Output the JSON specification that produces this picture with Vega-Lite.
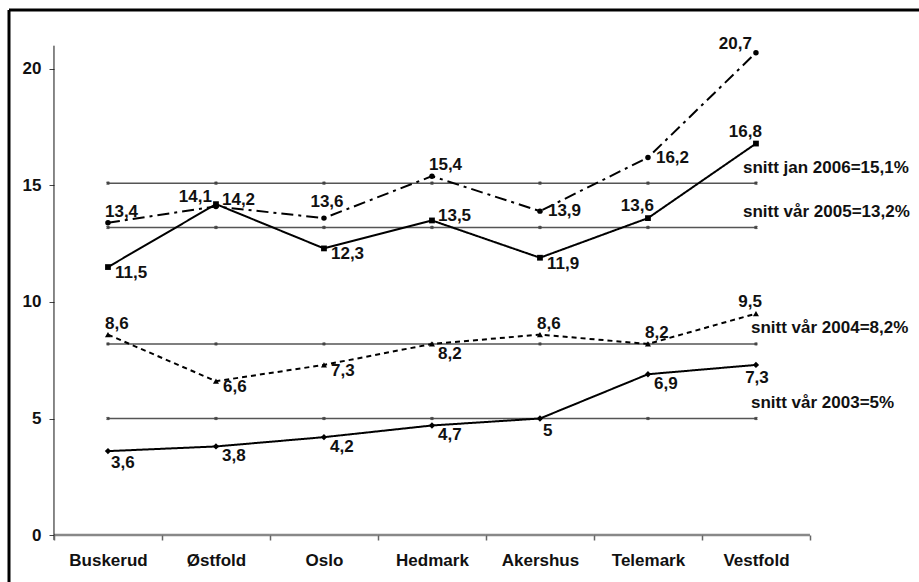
{
  "$schema": "https://vega.github.io/schema/vega-lite/v6.json",
  "autosize": {"type": "none"},
  "padding": {"left": 9, "top": 10, "right": 0, "bottom": 0},
  "width": 910,
  "height": 572,
  "background": "white",
  "config": {
    "view": {"stroke": null},
    "font": "Liberation Sans"
  },
  "datasets": {
    "series": [
      {"region": "Buskerud", "serie": "jan 2006", "value": 13.4},
      {"region": "Østfold", "serie": "jan 2006", "value": 14.1},
      {"region": "Oslo", "serie": "jan 2006", "value": 13.6},
      {"region": "Hedmark", "serie": "jan 2006", "value": 15.4},
      {"region": "Akershus", "serie": "jan 2006", "value": 13.9},
      {"region": "Telemark", "serie": "jan 2006", "value": 16.2},
      {"region": "Vestfold", "serie": "jan 2006", "value": 20.7},
      {"region": "Buskerud", "serie": "vår 2005", "value": 11.5},
      {"region": "Østfold", "serie": "vår 2005", "value": 14.2},
      {"region": "Oslo", "serie": "vår 2005", "value": 12.3},
      {"region": "Hedmark", "serie": "vår 2005", "value": 13.5},
      {"region": "Akershus", "serie": "vår 2005", "value": 11.9},
      {"region": "Telemark", "serie": "vår 2005", "value": 13.6},
      {"region": "Vestfold", "serie": "vår 2005", "value": 16.8},
      {"region": "Buskerud", "serie": "vår 2004", "value": 8.6},
      {"region": "Østfold", "serie": "vår 2004", "value": 6.6},
      {"region": "Oslo", "serie": "vår 2004", "value": 7.3},
      {"region": "Hedmark", "serie": "vår 2004", "value": 8.2},
      {"region": "Akershus", "serie": "vår 2004", "value": 8.6},
      {"region": "Telemark", "serie": "vår 2004", "value": 8.2},
      {"region": "Vestfold", "serie": "vår 2004", "value": 9.5},
      {"region": "Buskerud", "serie": "vår 2003", "value": 3.6},
      {"region": "Østfold", "serie": "vår 2003", "value": 3.8},
      {"region": "Oslo", "serie": "vår 2003", "value": 4.2},
      {"region": "Hedmark", "serie": "vår 2003", "value": 4.7},
      {"region": "Akershus", "serie": "vår 2003", "value": 5},
      {"region": "Telemark", "serie": "vår 2003", "value": 6.9},
      {"region": "Vestfold", "serie": "vår 2003", "value": 7.3}
    ],
    "snitt": [
      {"region": "Buskerud", "snitt": "jan 2006", "value": 15.1},
      {"region": "Østfold", "snitt": "jan 2006", "value": 15.1},
      {"region": "Oslo", "snitt": "jan 2006", "value": 15.1},
      {"region": "Hedmark", "snitt": "jan 2006", "value": 15.1},
      {"region": "Akershus", "snitt": "jan 2006", "value": 15.1},
      {"region": "Telemark", "snitt": "jan 2006", "value": 15.1},
      {"region": "Vestfold", "snitt": "jan 2006", "value": 15.1},
      {"region": "Buskerud", "snitt": "vår 2005", "value": 13.2},
      {"region": "Østfold", "snitt": "vår 2005", "value": 13.2},
      {"region": "Oslo", "snitt": "vår 2005", "value": 13.2},
      {"region": "Hedmark", "snitt": "vår 2005", "value": 13.2},
      {"region": "Akershus", "snitt": "vår 2005", "value": 13.2},
      {"region": "Telemark", "snitt": "vår 2005", "value": 13.2},
      {"region": "Vestfold", "snitt": "vår 2005", "value": 13.2},
      {"region": "Buskerud", "snitt": "vår 2004", "value": 8.2},
      {"region": "Østfold", "snitt": "vår 2004", "value": 8.2},
      {"region": "Oslo", "snitt": "vår 2004", "value": 8.2},
      {"region": "Hedmark", "snitt": "vår 2004", "value": 8.2},
      {"region": "Akershus", "snitt": "vår 2004", "value": 8.2},
      {"region": "Telemark", "snitt": "vår 2004", "value": 8.2},
      {"region": "Vestfold", "snitt": "vår 2004", "value": 8.2},
      {"region": "Buskerud", "snitt": "vår 2003", "value": 5},
      {"region": "Østfold", "snitt": "vår 2003", "value": 5},
      {"region": "Oslo", "snitt": "vår 2003", "value": 5},
      {"region": "Hedmark", "snitt": "vår 2003", "value": 5},
      {"region": "Akershus", "snitt": "vår 2003", "value": 5},
      {"region": "Telemark", "snitt": "vår 2003", "value": 5},
      {"region": "Vestfold", "snitt": "vår 2003", "value": 5}
    ],
    "snittlabels": [
      {"region": "Vestfold", "snitt": "jan 2006", "value": 15.1, "label": "snitt jan 2006=15,1%"},
      {"region": "Vestfold", "snitt": "vår 2005", "value": 13.2, "label": "snitt vår 2005=13,2%"},
      {"region": "Vestfold", "snitt": "vår 2004", "value": 8.2, "label": "snitt vår 2004=8,2%"},
      {"region": "Vestfold", "snitt": "vår 2003", "value": 5, "label": "snitt vår 2003=5%"}
    ]
  },
  "resolve": {"scale": {"x": "independent"}, "axis": {"x": "independent"}},
  "layer": [
    {
      "encoding": {
        "x": {
          "field": "region", "type": "nominal",
          "scale": {"type": "band", "domain": ["Buskerud", "Østfold", "Oslo", "Hedmark", "Akershus", "Telemark", "Vestfold"], "paddingInner": 0, "paddingOuter": 0.713, "align": 0.292},
          "axis": {"orient": "bottom", "offset": -47, "tickBand": "extent", "domain": false, "grid": false, "tickSize": 5, "tickColor": "#666", "tickWidth": 1.5, "labelFont": "Liberation Sans", "labelFontWeight": "bold", "labelFontSize": 17, "labelColor": "#111", "labelPadding": 12, "labelAngle": 0, "title": null}
        },
        "y": {
          "field": "value", "type": "quantitative",
          "scale": {"domain": [-2.017, 22.532], "nice": false, "zero": false},
          "axis": {"orient": "left", "offset": -45, "values": [0, 5, 10, 15, 20], "domain": false, "grid": false, "tickSize": 5, "tickColor": "#444", "tickWidth": 1, "labelFont": "Liberation Sans", "labelFontWeight": "bold", "labelFontSize": 17, "labelColor": "#111", "labelPadding": 8, "title": null}
        }
      },
      "layer": [
        {
          "data": {"name": "snitt"},
          "transform": [{"filter": "datum.snitt == 'jan 2006'"}],
          "mark": {"type": "rect", "color": "#888"},
          "encoding": {
            "y": {"datum": 0.055, "type": "quantitative", "scale": {"domain": [-2.017, 22.532], "nice": false, "zero": false}},
            "y2": {"datum": -0.055}
          }
        },
        {
          "data": {"name": "series"},
          "transform": [{"filter": "datum.region == 'Buskerud' && datum.serie == 'jan 2006'"}],
          "mark": {"type": "rule", "color": "#111", "strokeWidth": 1},
          "encoding": {
            "x": {"field": "region", "type": "nominal", "bandPosition": 0, "scale": {"type": "band", "domain": ["Buskerud", "Østfold", "Oslo", "Hedmark", "Akershus", "Telemark", "Vestfold"], "paddingInner": 0, "paddingOuter": 0.713, "align": 0.292}},
            "y": {"datum": -0.21, "type": "quantitative", "scale": {"domain": [-2.017, 22.532], "nice": false, "zero": false}},
            "y2": {"datum": 21}
          }
        },
        {
          "data": {"name": "snitt"},
          "mark": {"type": "line", "color": "#555", "strokeWidth": 1.5},
          "encoding": {"detail": {"field": "snitt", "type": "nominal"}}
        },
        {
          "data": {"name": "snitt"},
          "mark": {"type": "point", "shape": "cross", "filled": true, "color": "#444", "size": 14, "angle": 45, "opacity": 1},
          "encoding": {}
        },
        {
          "data": {"name": "series"},
          "mark": {"type": "line", "color": "#000", "strokeWidth": 2},
          "encoding": {
            "detail": {"field": "serie", "type": "nominal"},
            "strokeDash": {"field": "serie", "type": "nominal", "scale": {"domain": ["jan 2006", "vår 2005", "vår 2004", "vår 2003"], "range": [[12, 5, 3, 5], [1, 0], [5, 4], [1, 0]]}, "legend": null}
          }
        },
        {
          "data": {"name": "series"},
          "mark": {"type": "point", "filled": true, "color": "#000", "opacity": 1},
          "encoding": {
            "shape": {"field": "serie", "type": "nominal", "scale": {"domain": ["jan 2006", "vår 2005", "vår 2004", "vår 2003"], "range": ["circle", "square", "triangle-up", "diamond"]}, "legend": null},
            "size": {"field": "serie", "type": "nominal", "scale": {"domain": ["jan 2006", "vår 2005", "vår 2004", "vår 2003"], "range": [30, 40, 40, 14]}, "legend": null}
          }
        },
        {
          "data": {"name": "series"},
          "transform": [
            {"calculate": "replace(toString(datum.value), '.', ',')", "as": "lbl"},
            {"calculate": "datum.serie + '|' + datum.region", "as": "key"}
          ],
          "encoding": {"text": {"field": "lbl", "type": "nominal"}},
          "layer": [
            {
              "transform": [{"filter": "indexof(['vår 2005|Buskerud','vår 2005|Oslo','vår 2005|Akershus','vår 2004|Østfold','vår 2004|Oslo'], datum.key) >= 0"}],
              "mark": {"type": "text", "font": "Liberation Sans", "fontWeight": "bold", "fontSize": 17, "color": "#111", "align": "left", "baseline": "middle", "dx": 7, "dy": 6}
            },
            {
              "transform": [{"filter": "indexof(['vår 2004|Hedmark','vår 2003|Østfold','vår 2003|Oslo','vår 2003|Hedmark','vår 2003|Telemark'], datum.key) >= 0"}],
              "mark": {"type": "text", "font": "Liberation Sans", "fontWeight": "bold", "fontSize": 17, "color": "#111", "align": "left", "baseline": "middle", "dx": 6, "dy": 10}
            },
            {
              "transform": [{"filter": "indexof(['jan 2006|Akershus','jan 2006|Telemark'], datum.key) >= 0"}],
              "mark": {"type": "text", "font": "Liberation Sans", "fontWeight": "bold", "fontSize": 17, "color": "#111", "align": "left", "baseline": "middle", "dx": 8, "dy": 0}
            },
            {
              "transform": [{"filter": "indexof(['vår 2005|Hedmark','vår 2005|Østfold'], datum.key) >= 0"}],
              "mark": {"type": "text", "font": "Liberation Sans", "fontWeight": "bold", "fontSize": 17, "color": "#111", "align": "left", "baseline": "middle", "dx": 6, "dy": -4}
            },
            {
              "transform": [{"filter": "indexof(['jan 2006|Buskerud','jan 2006|Hedmark','vår 2004|Buskerud','vår 2004|Akershus','vår 2004|Telemark'], datum.key) >= 0"}],
              "mark": {"type": "text", "font": "Liberation Sans", "fontWeight": "bold", "fontSize": 17, "color": "#111", "align": "left", "baseline": "middle", "dx": -3, "dy": -11}
            },
            {
              "transform": [{"filter": "indexof(['vår 2005|Telemark','vår 2005|Vestfold','vår 2004|Vestfold'], datum.key) >= 0"}],
              "mark": {"type": "text", "font": "Liberation Sans", "fontWeight": "bold", "fontSize": 17, "color": "#111", "align": "right", "baseline": "middle", "dx": 6, "dy": -12}
            },
            {
              "transform": [{"filter": "indexof(['jan 2006|Vestfold','jan 2006|Østfold'], datum.key) >= 0"}],
              "mark": {"type": "text", "font": "Liberation Sans", "fontWeight": "bold", "fontSize": 17, "color": "#111", "align": "right", "baseline": "middle", "dx": -4, "dy": -9}
            },
            {
              "transform": [{"filter": "datum.key == 'jan 2006|Oslo'"}],
              "mark": {"type": "text", "font": "Liberation Sans", "fontWeight": "bold", "fontSize": 17, "color": "#111", "align": "center", "baseline": "middle", "dx": 3, "dy": -16}
            },
            {
              "transform": [{"filter": "indexof(['vår 2003|Buskerud','vår 2003|Akershus'], datum.key) >= 0"}],
              "mark": {"type": "text", "font": "Liberation Sans", "fontWeight": "bold", "fontSize": 17, "color": "#111", "align": "left", "baseline": "middle", "dx": 3, "dy": 12}
            },
            {
              "transform": [{"filter": "datum.key == 'vår 2003|Vestfold'"}],
              "mark": {"type": "text", "font": "Liberation Sans", "fontWeight": "bold", "fontSize": 17, "color": "#111", "align": "center", "baseline": "middle", "dx": 1, "dy": 13}
            }
          ]
        },
        {
          "data": {"name": "snittlabels"},
          "encoding": {"text": {"field": "label", "type": "nominal"}},
          "layer": [
            {
              "transform": [{"filter": "datum.snitt == 'jan 2006' || datum.snitt == 'vår 2005'"}],
              "mark": {"type": "text", "font": "Liberation Sans", "fontWeight": "bold", "fontSize": 17, "color": "#111", "align": "left", "baseline": "middle", "dx": -13, "dy": -15}
            },
            {
              "transform": [{"filter": "datum.snitt == 'vår 2004' || datum.snitt == 'vår 2003'"}],
              "mark": {"type": "text", "font": "Liberation Sans", "fontWeight": "bold", "fontSize": 17, "color": "#111", "align": "left", "baseline": "middle", "dx": -5, "dy": -16}
            }
          ]
        }
      ]
    },
    {
      "data": {"name": "snittlabels"},
      "transform": [{"filter": "datum.snitt == 'jan 2006'"}],
      "layer": [
        {
          "mark": {"type": "rule", "color": "#fff", "strokeWidth": 8},
          "encoding": {
            "x": {"datum": 1, "type": "quantitative", "scale": {"domain": [0, 1], "nice": false, "zero": false}, "axis": null},
            "y": {"datum": -2.017, "type": "quantitative", "scale": {"domain": [-2.017, 22.532], "nice": false, "zero": false}},
            "y2": {"datum": 22.3}
          }
        },
        {
          "mark": {"type": "rule", "color": "#fff", "strokeWidth": 8},
          "encoding": {
            "x": {"datum": 0.01, "type": "quantitative", "scale": {"domain": [0, 1], "nice": false, "zero": false}, "axis": null},
            "x2": {"datum": 1},
            "y": {"datum": -2.017, "type": "quantitative", "scale": {"domain": [-2.017, 22.532], "nice": false, "zero": false}}
          }
        },
        {
          "mark": {"type": "rule", "color": "#000", "strokeWidth": 3},
          "encoding": {
            "x": {"datum": 0, "type": "quantitative", "scale": {"domain": [0, 1], "nice": false, "zero": false}, "axis": null},
            "x2": {"datum": 1},
            "y": {"datum": 22.532, "type": "quantitative", "scale": {"domain": [-2.017, 22.532], "nice": false, "zero": false}}
          }
        },
        {
          "mark": {"type": "rule", "color": "#000", "strokeWidth": 3},
          "encoding": {
            "x": {"datum": 0, "type": "quantitative", "scale": {"domain": [0, 1], "nice": false, "zero": false}, "axis": null},
            "y": {"datum": -2.017, "type": "quantitative", "scale": {"domain": [-2.017, 22.532], "nice": false, "zero": false}},
            "y2": {"datum": 22.532}
          }
        }
      ]
    }
  ]
}
